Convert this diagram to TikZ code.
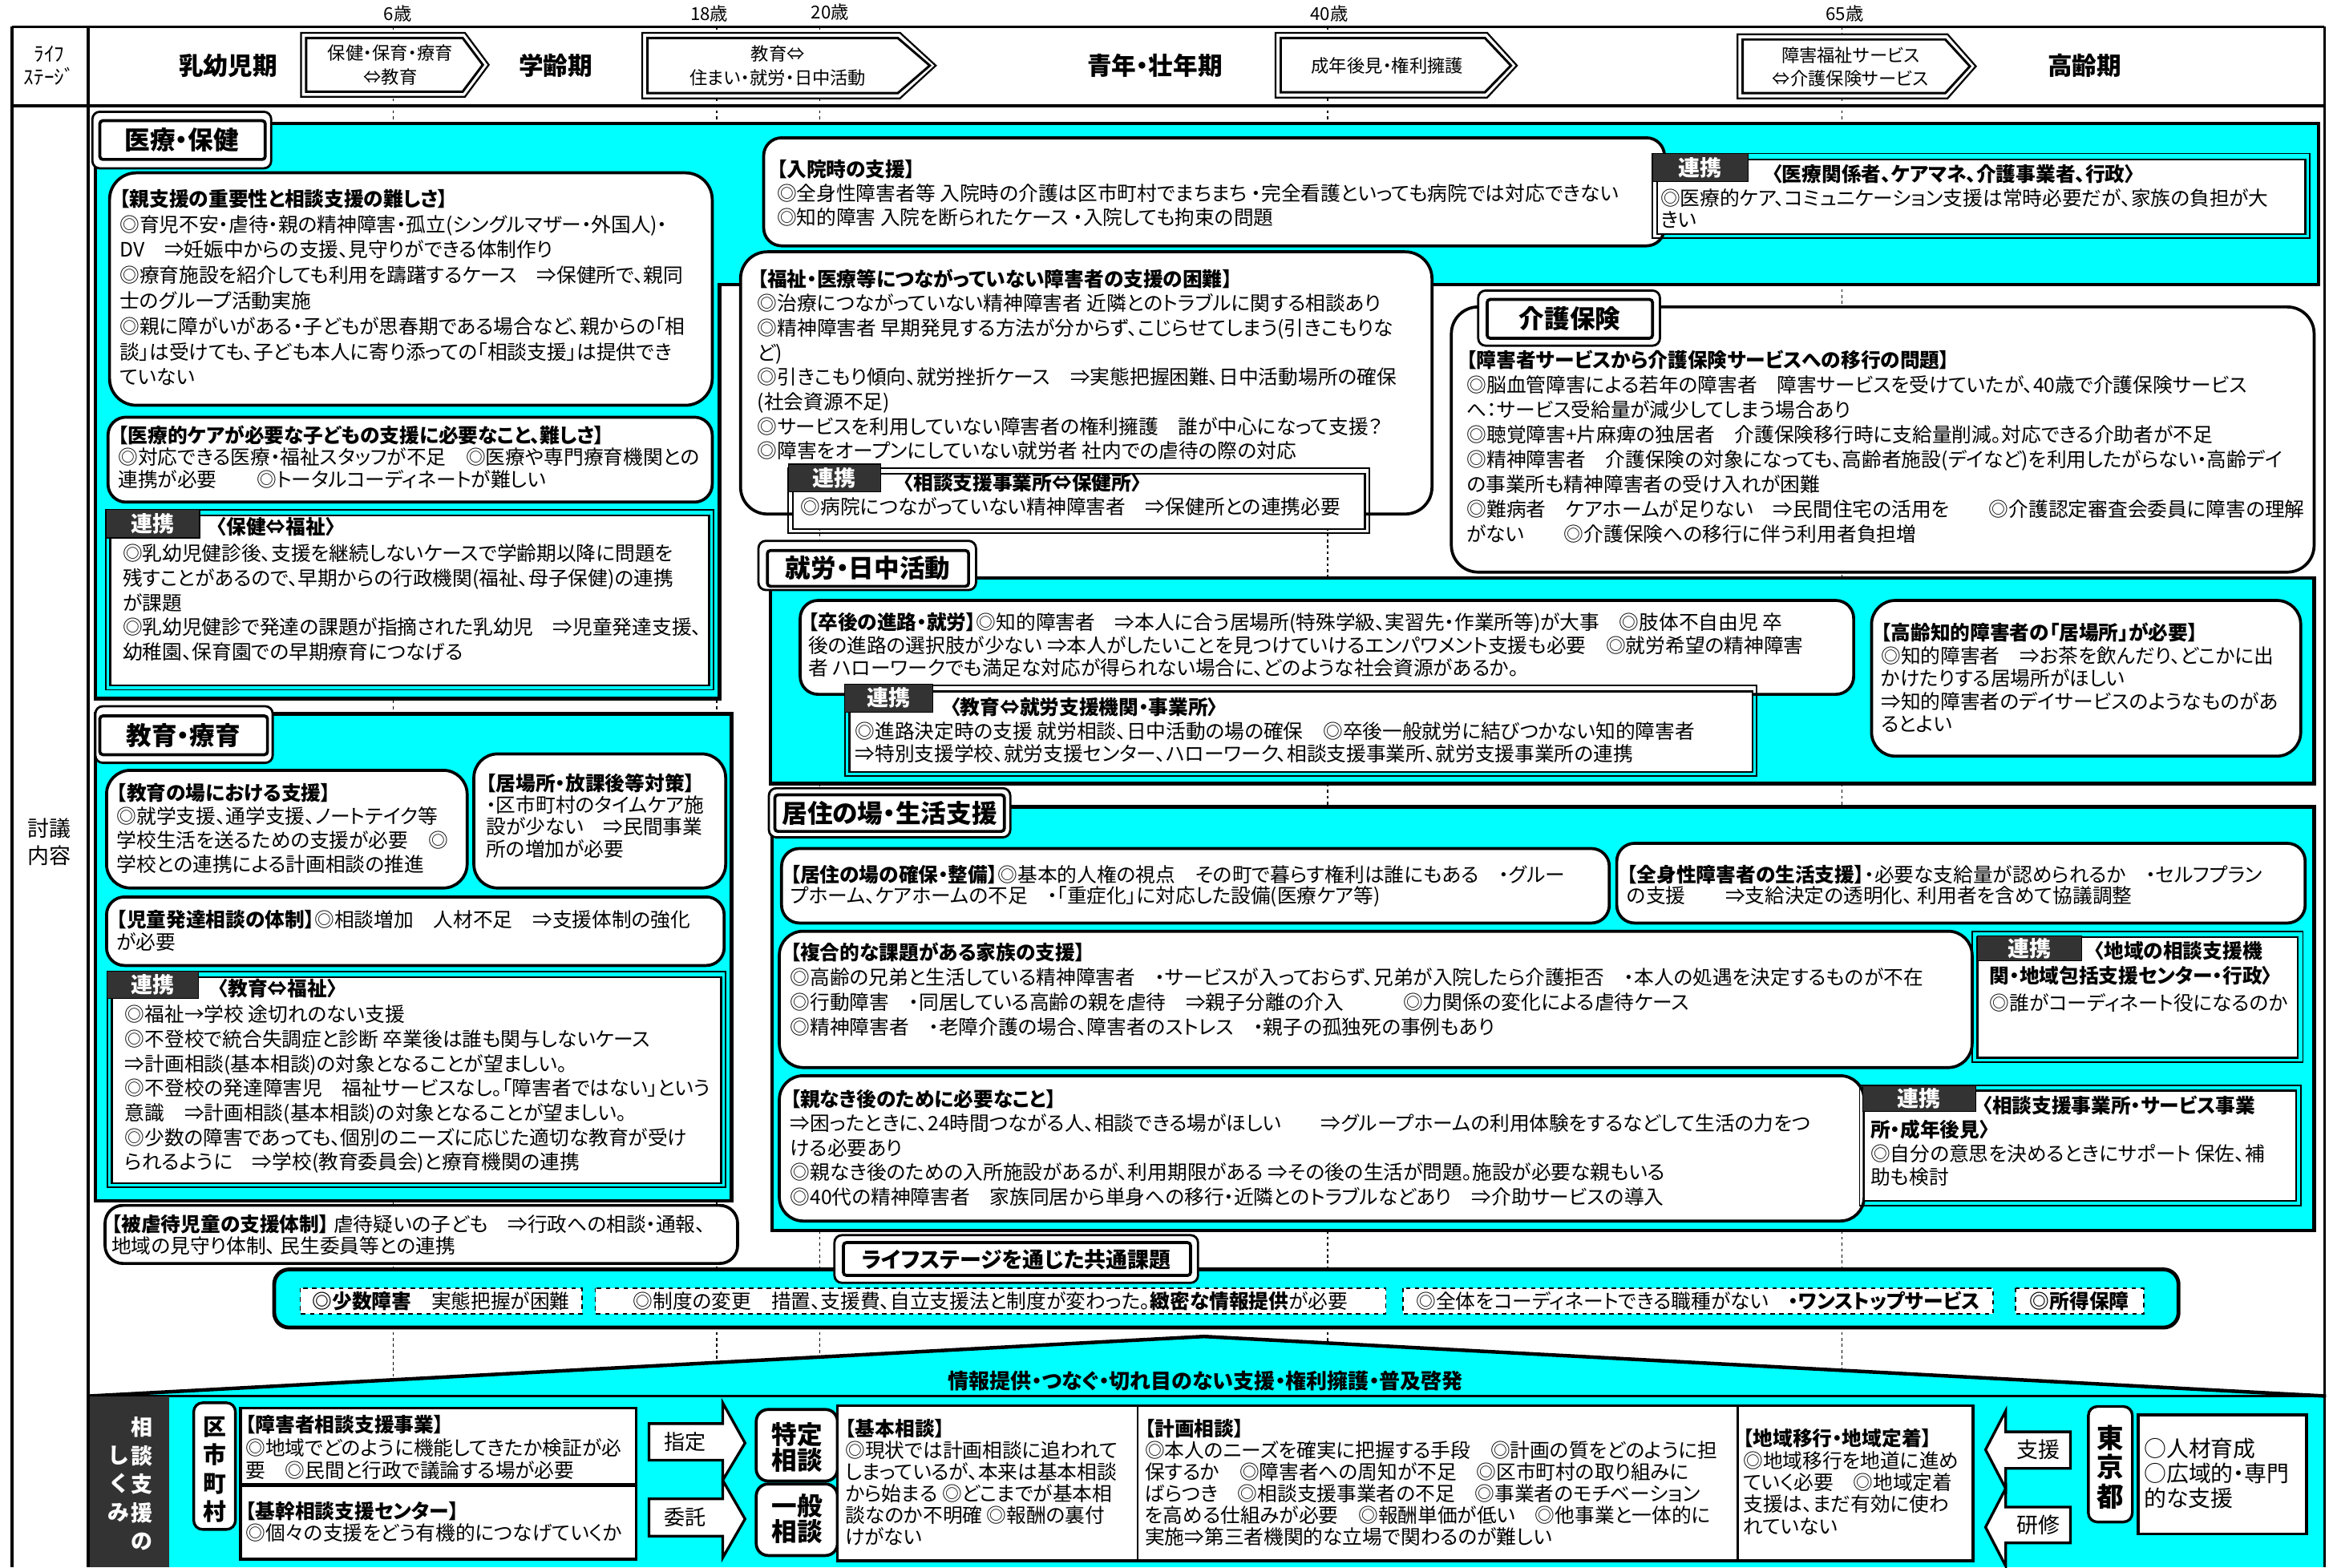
\documentclass[tikz,border=0pt]{standalone}
\usepackage{fontspec}
\setmainfont{Noto Sans CJK JP}[RawFeature=+palt]
\definecolor{panelcyan}{RGB}{0,255,255}
\definecolor{tagdark}{RGB}{51,51,51}

\tikzset{every picture/.style={line width=0.75pt}}
\tikzset{
	agedash/.style={dash pattern=on 2pt off 2pt, line width=0.8pt},
	framerule/.style={line width=2pt},
	stagearrow/.style={draw=black, fill=white, line width=1.2pt},
	stagearrowin/.style={draw=black, line width=1.6pt},
	panel/.style={draw=black, fill=panelcyan, line width=2.4pt},
	card/.style={draw=black, fill=white, line width=2pt, rounded corners=12pt},
	tabout/.style={draw=black, fill=white, line width=1.5pt, rounded corners=5pt},
	tabin/.style={draw=black, fill=white, line width=2pt, rounded corners=2pt},
	linkout/.style={draw=black, line width=1pt},
	linkin/.style={draw=black, fill=white, line width=1.3pt},
	linktag/.style={draw=black, fill=tagdark, line width=0.6pt},
	issuebox/.style={draw=black, fill=white, dashed, line width=1pt},
	plainbox/.style={draw=black, fill=white, line width=2pt},
	blockarrow/.style={draw=black, fill=white, line width=1.8pt, line join=miter},
	agetext/.style={font=\fontsize{12}{12}\selectfont, inner sep=0pt},
	stagetext/.style={font=\fontsize{16.5}{16.5}\bfseries\selectfont, inner sep=0pt},
	arrowtext/.style={font=\fontsize{12}{16}\selectfont, align=center, inner sep=0pt},
	tabtext/.style={font=\fontsize{17}{17}\bfseries\selectfont, inner sep=0pt},
	tagtext/.style={font=\fontsize{14.5}{14.5}\bfseries\selectfont, text=white, inner sep=0pt},
	bodytext/.style={anchor=north west, align=left, inner sep=0pt, font=\fontsize{13.3}{#1}\selectfont},
	bodytext/.default=16.5,
	linktitle/.style={anchor=north west, inner sep=0pt, font=\fontsize{13.3}{13.3}\bfseries\selectfont},
	issuetext/.style={font=\fontsize{13.3}{13.3}\selectfont, inner sep=0pt},
	sidetext/.style={font=\fontsize{14}{14}\selectfont, inner sep=0pt},
	vtext/.style={align=center, inner sep=0pt},
}

\begin{document}
\begin{tikzpicture}[x=1pt,y=1pt,yscale=-1,xscale=1]
	\useasboundingbox (0,0) rectangle (1563,1052);

	%Straight Lines: age marks
	\foreach \ax in {264,481,550,891,1236}
		\draw[agedash] (\ax,18) -- (\ax,937);

	% Text Node
	\node[agetext] (ageSix) at (267,9) {6歳};
	\node[agetext] (ageEighteen) at (476,9) {18歳};
	\node[agetext] (ageTwenty) at (557,8) {20歳};
	\node[agetext] (ageForty) at (892,9) {40歳};
	\node[agetext] (ageSixtyFive) at (1238,9) {65歳};

	%Shape: stage arrows
	\draw[stagearrow] (202,22) -- (312,22) -- (328,43.5) -- (312,65) -- (202,65) -- cycle;
	\draw[stagearrowin] (205.5,25.5) -- (310.5,25.5) -- (324,43.5) -- (310.5,61.5) -- (205.5,61.5) -- cycle;
	\draw[stagearrow] (431,22) -- (604,22) -- (628,44) -- (604,66) -- (431,66) -- cycle;
	\draw[stagearrowin] (434.5,25.5) -- (602.5,25.5) -- (624,44) -- (602.5,62.5) -- (434.5,62.5) -- cycle;
	\draw[stagearrow] (856,22) -- (998,22) -- (1018,44) -- (998,65.5) -- (856,65.5) -- cycle;
	\draw[stagearrowin] (859.5,25.5) -- (996.5,25.5) -- (1014,44) -- (996.5,62) -- (859.5,62) -- cycle;
	\draw[stagearrow] (1166,23) -- (1307,23) -- (1326,44.5) -- (1307,66) -- (1166,66) -- cycle;
	\draw[stagearrowin] (1169.5,26.5) -- (1305.5,26.5) -- (1322,44.5) -- (1305.5,62.5) -- (1169.5,62.5) -- cycle;

	% Text Node
	\node[font=\fontsize{13.5}{15.5}\selectfont, align=center, inner sep=0pt] (stageLabel) at (33,44) {ﾗｲﾌ\\ｽﾃｰｼﾞ};
	\node[stagetext] (stageInfant) at (153,44) {乳幼児期};
	\node[stagetext] (stageSchool) at (373,44) {学齢期};
	\node[stagetext] (stageAdult) at (775,44) {青年・壮年期};
	\node[stagetext] (stageElder) at (1399,44) {高齢期};
	\node[arrowtext] (shiftOne) at (262,43.5) {保健・保育・療育\\⇔教育};
	\node[arrowtext] (shiftTwo) at (522,44) {教育⇔\\住まい・就労・日中活動};
	\node[arrowtext] (shiftThree) at (931,44) {成年後見・権利擁護};
	\node[arrowtext] (shiftFour) at (1242,45) {障害福祉サービス\\⇔介護保険サービス};
	\node[font=\fontsize{14.5}{18}\selectfont, align=center, inner sep=0pt] (discussLabel) at (33,565) {討議\\内容};

	%Shape: 医療・保健
	\draw[panel] (64,83) -- (1556,83) -- (1556,191) -- (483,191) -- (483,469) -- (64,469) -- cycle;
	\draw[card, rounded corners=18pt] (73.5,116) rectangle (478,272);
	\draw[card] (72.5,280) rectangle (478,337);
	\draw[linkout] (71,342) rectangle (479,463);
	\draw[linkin] (74,346) rectangle (476,460);
	\draw[linktag] (71,342) rectangle (134,361);
	\draw[card] (512.5,92.5) rectangle (1117,165);
	\draw[linkout] (1109,103) rectangle (1550,160);
	\draw[linkin] (1112,107) rectangle (1547,157);
	\draw[linktag] (1109,103) rectangle (1173,122);
	\draw[card, rounded corners=18pt] (497,169) rectangle (961,345);
	\draw[linkout] (529,314) rectangle (919,358);
	\draw[linkin] (532,318) rectangle (916,355);
	\draw[linktag] (529,311.5) rectangle (591,330);
	\draw[tabout] (62,75) rectangle (182,113);
	\draw[tabin] (67,81) rectangle (178,107);

	% Text Node
	\node[tabtext] (tabMedical) at (122,94) {医療・保健};
	\node[bodytext=17.1] (parentSupport) at (80,126.7) {\textbf{【親支援の重要性と相談支援の難しさ】}\\◎育児不安・虐待・親の精神障害・孤立(シングルマザー・外国人)・\\DV　⇒妊娠中からの支援、見守りができる体制作り\\◎療育施設を紹介しても利用を躊躇するケース　⇒保健所で、親同\\士のグループ活動実施\\◎親に障がいがある・子どもが思春期である場合など、親からの「相\\談」は受けても、子ども本人に寄り添っての「相談支援」は提供でき\\ていない};
	\node[bodytext=15] (medicalCare) at (79,285) {\textbf{【医療的ケアが必要な子どもの支援に必要なこと、難しさ】}\\◎対応できる医療・福祉スタッフが不足　◎医療や専門療育機関との\\連携が必要　　◎トータルコーディネートが難しい};
	\node[tagtext] (tagHealth) at (102.5,351.5) {連携};
	\node[linktitle] (linkHealthTitle) at (145,346.7) {〈保健⇔福祉〉};
	\node[bodytext=16.6] (linkHealthBody) at (82,364.7) {◎乳幼児健診後、支援を継続しないケースで学齢期以降に問題を\\残すことがあるので、早期からの行政機関(福祉、母子保健)の連携\\が課題\\◎乳幼児健診で発達の課題が指摘された乳幼児　⇒児童発達支援、\\幼稚園、保育園での早期療育につなげる};
	\node[bodytext=16.2] (admission) at (521,106.7) {\textbf{【入院時の支援】}\\◎全身性障害者等 入院時の介護は区市町村でまちまち ・完全看護といっても病院では対応できない\\◎知的障害 入院を断られたケース ・入院しても拘束の問題};
	\node[tagtext] (tagMedical) at (1141,112.5) {連携};
	\node[linktitle] (linkMedicalTitle) at (1189,110.3) {〈医療関係者、ケアマネ、介護事業者、行政〉};
	\node[bodytext=14.5] (linkMedicalBody) at (1114,126.4) {◎医療的ケア、コミュニケーション支援は常時必要だが、家族の負担が大\\きい};
	\node[bodytext=16.5] (unlinked) at (508,180.2) {\textbf{【福祉・医療等につながっていない障害者の支援の困難】}\\◎治療につながっていない精神障害者 近隣とのトラブルに関する相談あり\\◎精神障害者 早期発見する方法が分からず、こじらせてしまう(引きこもりな\\ど)\\◎引きこもり傾向、就労挫折ケース　⇒実態把握困難、日中活動場所の確保\\(社会資源不足)\\◎サービスを利用していない障害者の権利擁護　誰が中心になって支援？\\◎障害をオープンにしていない就労者 社内での虐待の際の対応};
	\node[tagtext] (tagClinic) at (560,320.8) {連携};
	\node[linktitle] (linkClinicTitle) at (606,317.4) {〈相談支援事業所⇔保健所〉};
	\node[bodytext] (linkClinicBody) at (537,333.7) {◎病院につながっていない精神障害者　⇒保健所との連携必要};

	%Shape: 介護保険
	\draw[card, rounded corners=18pt] (974,206) rectangle (1553,384);
	\draw[tabout] (992,195) rectangle (1114,232);
	\draw[tabin] (998,201) rectangle (1109,227);

	% Text Node
	\node[tabtext] (tabCare) at (1053.5,214) {介護保険};
	\node[bodytext=16.7] (careShift) at (984,234.7) {\textbf{【障害者サービスから介護保険サービスへの移行の問題】}\\◎脳血管障害による若年の障害者　障害サービスを受けていたが、40歳で介護保険サービス\\へ：サービス受給量が減少してしまう場合あり\\◎聴覚障害+片麻痺の独居者　介護保険移行時に支給量削減。対応できる介助者が不足\\◎精神障害者　介護保険の対象になっても、高齢者施設(デイなど)を利用したがらない・高齢デイ\\の事業所も精神障害者の受け入れが困難\\◎難病者　ケアホームが足りない　⇒民間住宅の活用を　　◎介護認定審査会委員に障害の理解\\がない　　◎介護保険への移行に伴う利用者負担増};

	%Shape: 就労・日中活動
	\draw[panel] (517,388) rectangle (1553,526);
	\draw[card] (537,403) rectangle (1244,466);
	\draw[linkout] (567,460) rectangle (1179,521);
	\draw[linkin] (570,464) rectangle (1176,518);
	\draw[linktag] (567,459) rectangle (626,478);
	\draw[card, rounded corners=16pt] (1256,403) rectangle (1544,507.5);
	\draw[tabout] (509,363) rectangle (655,396);
	\draw[tabin] (515,369.5) rectangle (650,393.5);

	% Text Node
	\node[tabtext] (tabWork) at (582.5,381.5) {就労・日中活動};
	\node[bodytext=15.5] (afterSchool) at (542,410.7) {\textbf{【卒後の進路・就労】}◎知的障害者　⇒本人に合う居場所(特殊学級、実習先・作業所等)が大事　◎肢体不自由児 卒\\後の進路の選択肢が少ない ⇒本人がしたいことを見つけていけるエンパワメント支援も必要　◎就労希望の精神障害\\者 ハローワークでも満足な対応が得られない場合に、どのような社会資源があるか。};
	\node[tagtext] (tagWork) at (596.5,468.5) {連携};
	\node[linktitle] (linkWorkTitle) at (637.5,468.1) {〈教育⇔就労支援機関・事業所〉};
	\node[bodytext=15.3] (linkWorkBody) at (573.5,484.2) {◎進路決定時の支援 就労相談、日中活動の場の確保　◎卒後一般就労に結びつかない知的障害者\\⇒特別支援学校、就労支援センター、ハローワーク、相談支援事業所、就労支援事業所の連携};
	\node[bodytext=15.3] (elderPlace) at (1262,417.7) {\textbf{【高齢知的障害者の「居場所」が必要】}\\◎知的障害者　⇒お茶を飲んだり、どこかに出\\かけたりする居場所がほしい\\⇒知的障害者のデイサービスのようなものがあ\\るとよい};

	%Shape: 居住の場・生活支援
	\draw[panel] (518,541.5) rectangle (1553,826);
	\draw[card] (524.5,569.5) rectangle (1080,619.5);
	\draw[card] (1085,566) rectangle (1547,619.5);
	\draw[card, rounded corners=16pt] (523,625) rectangle (1323.5,716.5);
	\draw[linkout] (1323.5,625) rectangle (1545.5,713);
	\draw[linkin] (1327,629) rectangle (1542,710);
	\draw[linktag] (1327,628) rectangle (1397,645);
	\draw[card, rounded corners=16pt] (523,722) rectangle (1251,819.5);
	\draw[linkout] (1248,728.5) rectangle (1544,809);
	\draw[linkin] (1251,732) rectangle (1541,806);
	\draw[linktag] (1250,729) rectangle (1326,746);
	\draw[tabout] (516,529) rectangle (678,562);
	\draw[tabin] (520,533.5) rectangle (674,558);

	% Text Node
	\node[tabtext] (tabLiving) at (597,546) {居住の場・生活支援};
	\node[bodytext=14.3] (housing) at (530,580.2) {\textbf{【居住の場の確保・整備】}◎基本的人権の視点　その町で暮らす権利は誰にもある　・グルー\\プホーム、ケアホームの不足　・「重症化」に対応した設備(医療ケア等)};
	\node[bodytext=14.3] (fullBody) at (1091.5,580.2) {\textbf{【全身性障害者の生活支援】}・必要な支給量が認められるか　・セルフプラン\\の支援　　⇒支給決定の透明化、 利用者を含めて協議調整};
	\node[bodytext=16.7] (family) at (530,632.2) {\textbf{【複合的な課題がある家族の支援】}\\◎高齢の兄弟と生活している精神障害者　・サービスが入っておらず、兄弟が入院したら介護拒否　・本人の処遇を決定するものが不在\\◎行動障害　・同居している高齢の親を虐待　⇒親子分離の介入　　　◎力関係の変化による虐待ケース\\◎精神障害者　・老障介護の場合、障害者のストレス　・親子の孤独死の事例もあり};
	\node[tagtext] (tagArea) at (1362,636.5) {連携};
	\node[linktitle] (linkAreaTitle) at (1405,631.3) {〈地域の相談支援機};
	\node[bodytext=18] (linkAreaBody) at (1335,648.3) {\textbf{関・地域包括支援センター・行政〉}\\◎誰がコーディネート役になるのか};
	\node[bodytext=16.4] (afterParents) at (530,730.7) {\textbf{【親なき後のために必要なこと】}\\⇒困ったときに、24時間つながる人、相談できる場がほしい　　⇒グループホームの利用体験をするなどして生活の力をつ\\ける必要あり\\◎親なき後のための入所施設があるが、利用期限がある ⇒その後の生活が問題。施設が必要な親もいる\\◎40代の精神障害者　家族同居から単身への移行・近隣とのトラブルなどあり　⇒介助サービスの導入};
	\node[tagtext] (tagConsult) at (1288,737.5) {連携};
	\node[linktitle] (linkConsultTitle) at (1330,735.2) {〈相談支援事業所・サービス事業};
	\node[bodytext=15.7] (linkConsultBody) at (1255,751.4) {\textbf{所・成年後見〉}\\◎自分の意思を決めるときにサポート 保佐、補\\助も検討};

	%Shape: 教育・療育
	\draw[panel] (64,479) rectangle (491,806);
	\draw[card, rounded corners=16pt] (71.5,517) rectangle (313.5,596);
	\draw[card, rounded corners=16pt] (318,506) rectangle (487,596);
	\draw[card] (71.5,602) rectangle (486,648);
	\draw[linkout] (72,652) rectangle (487,797);
	\draw[linkin] (75,656) rectangle (484,794);
	\draw[linktag] (72,652) rectangle (133,670);
	\draw[tabout] (64,474) rectangle (183,512);
	\draw[tabin] (67,480.5) rectangle (179.5,506.5);
	\draw[card] (70.5,809) rectangle (495,848);

	% Text Node
	\node[tabtext] (tabEducation) at (123,493.5) {教育・療育};
	\node[bodytext=16] (schoolSupport) at (78,525.3) {\textbf{【教育の場における支援】}\\◎就学支援、通学支援、ノートテイク等\\学校生活を送るための支援が必要　◎\\学校との連携による計画相談の推進};
	\node[bodytext=14.7] (afterSchoolCare) at (326,518.7) {\textbf{【居場所・放課後等対策】}\\・区市町村のタイムケア施\\設が少ない　⇒民間事業\\所の増加が必要};
	\node[bodytext=14.7] (childDev) at (78,610.7) {\textbf{【児童発達相談の体制】}◎相談増加　人材不足　⇒支援体制の強化\\が必要};
	\node[tagtext] (tagSchool) at (102.5,661) {連携};
	\node[linktitle] (linkSchoolTitle) at (146,656.7) {〈教育⇔福祉〉};
	\node[bodytext=16.5] (linkSchoolBody) at (83.5,674.3) {◎福祉→学校 途切れのない支援\\◎不登校で統合失調症と診断 卒業後は誰も関与しないケース\\⇒計画相談(基本相談)の対象となることが望ましい。\\◎不登校の発達障害児　福祉サービスなし。「障害者ではない」という\\意識　⇒計画相談(基本相談)の対象となることが望ましい。\\◎少数の障害であっても、個別のニーズに応じた適切な教育が受け\\られるように　⇒学校(教育委員会)と療育機関の連携};
	\node[bodytext=14.3] (abuse) at (74.5,815.1) {\textbf{【被虐待児童の支援体制】} 虐待疑いの子ども　⇒行政への相談・通報、\\地域の見守り体制、 民生委員等との連携};

	%Shape: 共通課題
	\draw[panel, rounded corners=10pt, line width=2.6pt] (184,852) rectangle (1462,891);
	\draw[issuebox] (201.5,864.5) rectangle (390.5,882);
	\draw[issuebox] (399.5,864.5) rectangle (930,882);
	\draw[issuebox] (941.5,864.5) rectangle (1337.5,882);
	\draw[issuebox] (1352.5,864.5) rectangle (1438.5,882);
	\draw[tabout] (560,829) rectangle (804,861);
	\draw[tabin] (566,834) rectangle (799,856);

	% Text Node
	\node[tabtext, font=\fontsize{14.5}{14.5}\bfseries\selectfont] (tabCommon) at (682,845.5) {ライフステージを通じた共通課題};
	\node[issuetext] (issueMinor) at (296,873.2) {\textbf{◎少数障害}　実態把握が困難};
	\node[issuetext] (issueSystem) at (664.7,873.2) {◎制度の変更　措置、支援費、自立支援法と制度が変わった。\textbf{緻密な情報提供}が必要};
	\node[issuetext] (issueCoord) at (1139.5,873.2) {◎全体をコーディネートできる職種がない　\textbf{・ワンストップサービス}};
	\node[issuetext] (issueIncome) at (1395.5,873.2) {\textbf{◎所得保障}};

	%Shape: 相談支援のしくみ
	\fill[panelcyan] (113.5,937) rectangle (1561,1052);
	\fill[panelcyan] (60,937) -- (808,897) -- (1561,937) -- cycle;
	\draw[line width=2.4pt, line join=round] (60,937) -- (808,897) -- (1561,937);
	\draw[line width=2pt] (59,937) -- (1561,937);
	\fill[tagdark] (59,937) rectangle (113.5,1052);
	\draw[plainbox, rounded corners=6pt, line width=1.8pt] (130,941.5) rectangle (158,1026.5);
	\draw[plainbox] (161.5,945) rectangle (427,996.5);
	\draw[plainbox] (161.5,997) rectangle (427,1046.5);
	\draw[blockarrow] (435.5,955.5) -- (485,955.5) -- (485,941.5) -- (500,968.5) -- (485,993.5) -- (485,980) -- (435.5,980) -- cycle;
	\draw[blockarrow] (435.5,1006) -- (485,1006) -- (485,993.5) -- (500,1019.5) -- (485,1045.5) -- (485,1031) -- (435.5,1031) -- cycle;
	\draw[plainbox, rounded corners=8pt] (507.5,946) rectangle (562,994);
	\draw[plainbox, rounded corners=8pt] (507.5,996) rectangle (562,1044);
	\draw[plainbox] (562,943.5) rectangle (1324,1047.5);
	\draw[line width=1.5pt] (763.5,943.5) -- (763.5,1047.5);
	\draw[line width=1.5pt] (1166,943.5) -- (1166,1047.5);
	\draw[blockarrow] (1389.5,961) -- (1346,961) -- (1346,947) -- (1332.5,973) -- (1346,999) -- (1346,985.5) -- (1389.5,985.5) -- cycle;
	\draw[blockarrow] (1389.5,1011.5) -- (1346,1011.5) -- (1346,999) -- (1332.5,1025) -- (1346,1051) -- (1346,1035.5) -- (1389.5,1035.5) -- cycle;
	\draw[plainbox, rounded corners=6pt, line width=1.8pt] (1401.5,944) rectangle (1431,1021.5);
	\draw[plainbox] (1435,949.5) rectangle (1548,1029.5);

	% Text Node
	\node[font=\fontsize{14}{14}\bfseries\selectfont, inner sep=0pt] (bandTheme) at (809,927) {情報提供・つなぐ・切れ目のない支援・権利擁護・普及啓発};
	\node[vtext, font=\fontsize{14.5}{19.1}\bfseries\selectfont, text=white] (systemRight) at (95,996) {相\\談\\支\\援\\の};
	\node[vtext, font=\fontsize{14.5}{19.1}\bfseries\selectfont, text=white] (systemLeft) at (79.5,996) {し\\く\\み};
	\node[vtext, font=\fontsize{15.5}{19.1}\bfseries\selectfont] (wardLabel) at (144,986.4) {区\\市\\町\\村};
	\node[bodytext=15.2] (consultProject) at (164.5,949.7) {\textbf{【障害者相談支援事業】}\\◎地域でどのように機能してきたか検証が必\\要　◎民間と行政で議論する場が必要};
	\node[bodytext=14.6] (coreCenter) at (164.5,1007.7) {\textbf{【基幹相談支援センター】}\\◎個々の支援をどう有機的につなげていくか};
	\node[sidetext] (designate) at (460,968) {指定};
	\node[sidetext] (entrust) at (460,1018.5) {委託};
	\node[vtext, font=\fontsize{17}{17.3}\bfseries\selectfont] (specificConsult) at (535,971.5) {特定\\相談};
	\node[vtext, font=\fontsize{17}{16}\bfseries\selectfont] (generalConsult) at (535,1019.5) {一般\\相談};
	\node[bodytext=14.5] (basicConsult) at (567,952.3) {\textbf{【基本相談】}\\◎現状では計画相談に追われて\\しまっているが、本来は基本相談\\から始まる ◎どこまでが基本相\\談なのか不明確 ◎報酬の裏付\\けがない};
	\node[bodytext=14.5] (planConsult) at (768,952.3) {\textbf{【計画相談】}\\◎本人のニーズを確実に把握する手段　◎計画の質をどのように担\\保するか　◎障害者への周知が不足　◎区市町村の取り組みに\\ばらつき　◎相談支援事業者の不足　◎事業者のモチベーション\\を高める仕組みが必要　◎報酬単価が低い　◎他事業と一体的に\\実施⇒第三者機関的な立場で関わるのが難しい};
	\node[bodytext=14.7] (areaShift) at (1169.5,958.7) {\textbf{【地域移行・地域定着】}\\◎地域移行を地道に進め\\ていく必要　◎地域定着\\支援は、まだ有効に使わ\\れていない};
	\node[sidetext, font=\fontsize{14.5}{14.5}\selectfont] (support) at (1368,973) {支援};
	\node[sidetext, font=\fontsize{14.5}{14.5}\selectfont] (training) at (1368,1023.5) {研修};
	\node[vtext, font=\fontsize{18}{19.6}\bfseries\selectfont] (tokyoLabel) at (1416.2,984.6) {東\\京\\都};
	\node[bodytext, font=\fontsize{15}{16.5}\selectfont] (tokyoRole) at (1438.5,965) {○人材育成\\○広域的・専門\\的な支援};

	%Straight Lines: table frame
	\draw[framerule] (8,18) -- (1560,18);
	\draw[framerule] (8,71) -- (1560,71);
	\draw[framerule] (8,18) -- (8,1052);
	\draw[framerule] (59,18) -- (59,1052);
	\draw[framerule] (1560,18) -- (1560,1052);

\end{tikzpicture}
\end{document}
